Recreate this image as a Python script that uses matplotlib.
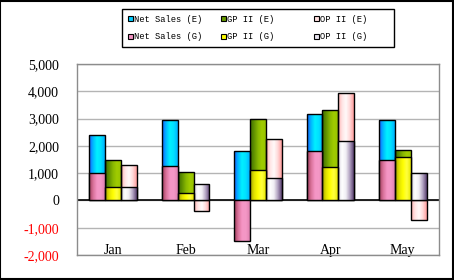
import matplotlib.pyplot as plt
import numpy as np
from matplotlib.colors import LinearSegmentedColormap
from matplotlib.patches import Patch, Rectangle
from matplotlib.ticker import FuncFormatter

# Data
months = ['Jan', 'Feb', 'Mar', 'Apr', 'May']
net_sales_e = [2400, 2950, 1800, 3150, 2950]
net_sales_g = [1000, 1250, -1500, 1800, 1500]
gp_e = [1470, 1040, 2970, 3300, 1850]
gp_g = [480, 280, 1120, 1220, 1580]
op_e = [1300, -380, 2250, 3920, -700]
op_g = [480, 600, 820, 2160, 1000]

# horizontal gradients (left -> right) for each series
grads = {
    'ns_e': ['#1a5cff', '#00b8ff', '#00f0ff', '#00e0ff', '#00b0ff'],
    'ns_g': ['#9a3a58', '#d87098', '#f595c5', '#f398c6', '#e080b0'],
    'gp_e': ['#3d6b00', '#609000', '#88b800', '#a0cc00', '#98c400'],
    'gp_g': ['#a0a000', '#e0e000', '#ffff00', '#ffff40', '#e8e800'],
    'op_e': ['#ffb0b0', '#ffe4e4', '#fffafa', '#ffd8d8', '#ff9c9c'],
    'op_g': ['#d8d4e0', '#ffffff', '#f0eef4', '#b0a0c0', '#5a4070'],
}
solid = {'ns_e': '#00ccff', 'ns_g': '#f090c0', 'gp_e': '#669900',
         'gp_g': '#ffff00', 'op_e': '#ffe0e0', 'op_g': '#e8e4f0'}

fig = plt.figure(figsize=(4.54, 2.80), dpi=100)
ax = fig.add_axes([77 / 454, 1 - 255 / 280, 362 / 454, 191 / 280])

x = np.arange(len(months))
w = 0.22
ramp = np.linspace(0, 1, 64).reshape(1, -1)


def grad_bars(offset, values, key, z):
    bars = ax.bar(x + offset, values, w, facecolor='none', edgecolor='black',
                  linewidth=1, zorder=z + 0.1)
    cmap = LinearSegmentedColormap.from_list(key, grads[key])
    for b in bars:
        x0, y0 = b.get_x(), b.get_y()
        x1, y1 = x0 + b.get_width(), y0 + b.get_height()
        im = ax.imshow(ramp, cmap=cmap, extent=[x0, x1, min(y0, y1), max(y0, y1)],
                       aspect='auto', interpolation='bilinear', zorder=z)
        im.set_clip_path(b)


# E series behind, G series in front
grad_bars(-w, net_sales_e, 'ns_e', 2)
grad_bars(0, gp_e, 'gp_e', 2)
grad_bars(w, op_e, 'op_e', 2)
grad_bars(-w, net_sales_g, 'ns_g', 3)
grad_bars(0, gp_g, 'gp_g', 3)
grad_bars(w, op_g, 'op_g', 3)

ax.set_xlim(-0.5, len(months) - 0.5)
ax.set_ylim(-2000, 5000)
ax.set_yticks(np.arange(-2000, 5001, 1000))
ax.yaxis.set_major_formatter(FuncFormatter(lambda v, p: f'{int(v):,}'))
ax.grid(axis='y', color='#b4b4b4', linewidth=1)
ax.set_axisbelow(True)
ax.axhline(0, color='black', linewidth=1.2, zorder=1.5)

for s in ax.spines.values():
    s.set_color('#8c8c8c')
    s.set_linewidth(1)

ax.set_xticks(x, months)
ax.tick_params(axis='x', length=0, pad=-8)
ax.tick_params(axis='y', length=0, pad=13)
for lab in ax.get_xticklabels():
    lab.set_fontfamily('Liberation Serif')
    lab.set_fontsize(10)
for lab, v in zip(ax.get_yticklabels(), ax.get_yticks()):
    lab.set_fontfamily('Liberation Serif')
    lab.set_fontsize(10)
    if v < 0:
        lab.set_color('red')

# legend: E entries on top row, G on bottom row
labels = ['Net Sales (E)', 'Net Sales (G)', 'GP II (E)', 'GP II (G)', 'OP II (E)', 'OP II (G)']
keys = ['ns_e', 'ns_g', 'gp_e', 'gp_g', 'op_e', 'op_g']
handles = [Patch(facecolor=solid[k], edgecolor='black', linewidth=0.8) for k in keys]
leg = fig.legend(handles, [l.ljust(13) for l in labels], ncol=3, loc='upper left',
                 bbox_to_anchor=(118 / 454, 1 - 5 / 280, 280 / 454, 0),
                 mode='expand',
                 prop={'family': 'Liberation Mono', 'size': 6.3},
                 handlelength=0.6, handleheight=0.6, handletextpad=0.15,
                 columnspacing=1.0, labelspacing=1.0, borderpad=0.6,
                 fancybox=False, framealpha=1, edgecolor='black')
leg.get_frame().set_linewidth(1)
leg.set_zorder(10)

fig.patches.append(Rectangle((0.001, 0.002), 0.997, 0.996, transform=fig.transFigure,
                             fill=False, edgecolor='black', linewidth=1.5))

fig.savefig('out.png', dpi=100)
